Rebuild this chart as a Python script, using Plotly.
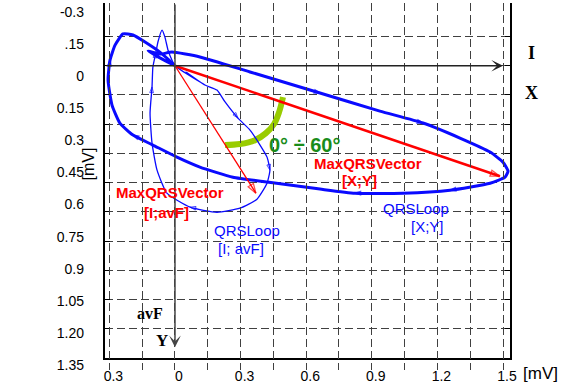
import numpy as np
import plotly.graph_objects as go

# ---------------- data (grid units, mV) ----------------
# QRS loop in the X;Y plane (thick)
xy_x = [0, -0.123, -0.069, -0.014, 0.114, 0.343, 0.663, 0.937, 1.134, 1.303, 1.441, 1.500,
        1.523, 1.509, 1.441, 1.258, 1.043, 0.823, 0.663, 0.421, 0.265, 0.114, 0.009, -0.101,
        -0.192, -0.252, -0.288, -0.306, -0.297, -0.274, -0.238, -0.192, -0.137, -0.069, 0]
xy_y = [0, -0.076, -0.060, -0.070, -0.045, 0.032, 0.140, 0.233, 0.294, 0.371, 0.443, 0.495,
        0.541, 0.572, 0.603, 0.639, 0.654, 0.654, 0.633, 0.597, 0.572, 0.520, 0.469, 0.407,
        0.356, 0.294, 0.202, 0.073, -0.029, -0.106, -0.163, -0.158, -0.122, -0.070, 0]
xy_arrow_idx = [6, 8, 15, 17, 24, 28]

# QRS loop in the I;avF plane (thin)
ia_x = [0, 0.114, 0.050, 0.137, 0.192, 0.229, 0.288, 0.343, 0.389, 0.421, 0.434, 0.421, 0.375,
        0.297, 0.192, 0.069, -0.037, -0.082, -0.105, -0.114, -0.105, -0.101, -0.087, -0.078,
        -0.059, -0.046, -0.032, -0.014, 0]
ia_y = [0, 0.084, 0.032, 0.099, 0.125, 0.186, 0.269, 0.330, 0.407, 0.469, 0.536, 0.603, 0.685,
        0.731, 0.752, 0.726, 0.654, 0.536, 0.397, 0.243, 0.109, 0.007, -0.070, -0.122, -0.183,
        -0.147, -0.081, -0.029, 0]
ia_arrow_idx = [6, 10, 15, 20, 22]

# maximal QRS vectors
vec_xy = [1.486, 0.567]
vec_ia = [0.370, 0.654]

# 0°÷60° arc
arc_x = [0.494, 0.476, 0.453, 0.416, 0.366, 0.297, 0.229]
arc_y = [0.161, 0.238, 0.299, 0.346, 0.382, 0.402, 0.407]

# axis arrows (ends)
x_arrow_end = 1.5
y_arrow_end = 1.445

# ticks
x_tick_vals = list(np.round(np.arange(-0.3, 1.5001, 0.15), 2))
x_tick_text = ["0.3", "", "0", "", "0.3", "", "0.6", "", "0.9", "", "1.2", "", "1.5"]
y_grid_vals = list(np.round(np.arange(-0.15, 1.3501, 0.15), 2))
y_label_vals = list(np.round(np.arange(-0.3, 1.3501, 0.15), 2))
y_label_text = ["-0.3", ".15", "0", "0.15", "0.3", "0.45", "0.6", "0.75", "0.9", "1.05",
                "1.20", "1.35"]

BLUE = "#0a0aff"
RED = "#ff0000"
GREEN_TXT = "#1a8c1a"
ARC = "#99cc00"
SANS = "Liberation Sans, Arial, sans-serif"
SERIF = "Liberation Serif, Times New Roman, serif"


def sizes(n, idx, s):
    return [s if i in idx else 0 for i in range(n)]


fig = go.Figure()

# arc
fig.add_trace(go.Scatter(x=arc_x, y=arc_y, mode="lines", line=dict(color=ARC, width=6, shape="spline"),
                         hoverinfo="skip", showlegend=False))

# loops
fig.add_trace(go.Scatter(x=xy_x, y=xy_y, mode="lines+markers",
                         line=dict(color=BLUE, width=3, shape="spline", smoothing=0.5),
                         marker=dict(symbol="arrow-open", size=sizes(len(xy_x), xy_arrow_idx, 6),
                                     angleref="previous", color=BLUE, line=dict(width=1.2, color=BLUE)),
                         showlegend=False, hoverinfo="skip"))
fig.add_trace(go.Scatter(x=ia_x, y=ia_y, mode="lines+markers",
                         line=dict(color=BLUE, width=1.3, shape="spline", smoothing=0.5),
                         marker=dict(symbol="arrow-open", size=sizes(len(ia_x), ia_arrow_idx, 6),
                                     angleref="previous", color=BLUE, line=dict(width=1, color=BLUE)),
                         showlegend=False, hoverinfo="skip"))

# vectors
for v, w in ((vec_xy, 2.5), (vec_ia, 1.3)):
    fig.add_trace(go.Scatter(x=[0, v[0]], y=[0, v[1]], mode="lines+markers",
                             line=dict(color=RED, width=w),
                             marker=dict(symbol="arrow-open", size=[0, 10], angleref="previous",
                                         color=RED, line=dict(width=1.3, color=RED)),
                             showlegend=False, hoverinfo="skip"))

# dummy trace for the label axis
fig.add_trace(go.Scatter(x=[None], y=[None], yaxis="y2", showlegend=False, hoverinfo="skip"))

ann = []
# axis arrows
ann.append(dict(x=x_arrow_end, y=0, ax=-0.32, ay=0, xref="x", yref="y", axref="x", ayref="y",
                text="", showarrow=True, arrowhead=3, arrowsize=1.3, arrowwidth=1.5, arrowcolor="#222222",
                standoff=0))
ann.append(dict(x=0, y=y_arrow_end, ax=0, ay=-0.322, xref="x", yref="y", axref="x", ayref="y",
                text="", showarrow=True, arrowhead=3, arrowsize=1.3, arrowwidth=1.5, arrowcolor="#444444",
                standoff=0))


def txt(t, x, y, color, size, bold=False, family=SANS, ref="data", **kw):
    r = ("x", "y") if ref == "data" else ("paper", "paper")
    d = dict(text=f"<b>{t}</b>" if bold else t, x=x, y=y, xref=r[0], yref=r[1], showarrow=False,
             xanchor="center", yanchor="middle",
             font=dict(color=color, size=size, family=family))
    d.update(kw)
    ann.append(d)


txt("I", 1.052, 0.864, "black", 18, True, SERIF, ref="paper")
txt("X", 1.054, 0.755, "black", 18, True, SERIF, ref="paper")
txt("avF", -0.114, 1.270, "black", 16, True, SERIF)
txt("Y", -0.059, 1.409, "black", 17, True, SERIF)
txt("0° ÷ 60°", 0.594, 0.407, GREEN_TXT, 20, True)
txt("MaxQRSVector", 0.883, 0.500, RED, 15, True)
txt("[X;Y]", 0.846, 0.587, RED, 15, True)
txt("MaxQRSVector", -0.023, 0.650, RED, 15, True)
txt("[I;avF]", -0.037, 0.752, RED, 15, True)
txt("QRSLoop", 1.102, 0.731, BLUE, 15)
txt("[X;Y]", 1.157, 0.823, BLUE, 15)
txt("QRSLoop", 0.329, 0.844, BLUE, 15)
txt("[I; avF]", 0.302, 0.937, BLUE, 15)
txt("[mV]", 1.027, -0.010, "black", 17, ref="paper", xanchor="left")
txt("[mV]", -0.040, 0.562, "black", 16, ref="paper", textangle=-90)

grid = dict(showgrid=True, gridcolor="#404040", gridwidth=1, griddash="8px,4px", zeroline=False,
            automargin=False)

fig.update_layout(
    template="none",
    width=562, height=385,
    margin=dict(l=105, r=52, t=3, b=15, pad=0),
    paper_bgcolor="white", plot_bgcolor="rgba(0,0,0,0)",
    font=dict(family=SANS, size=14, color="black"),
    annotations=ann,
    xaxis=dict(range=[-0.32, 1.532], tickmode="array", tickvals=x_tick_vals, ticktext=x_tick_text,
               ticks="inside", ticklen=5, tickcolor="black", tickwidth=1,
               showline=True, linecolor="black", linewidth=2, mirror=False,
               tickfont=dict(size=14, family=SANS), ticklabelshift=4, ticklabelstandoff=4,
               anchor="y", **grid),
    yaxis=dict(range=[1.5, -0.322], domain=[0.0327, 1], tickmode="array", tickvals=y_grid_vals,
               showticklabels=False, ticks="inside", ticklen=5, tickcolor="black", tickwidth=1,
               showline=True, linecolor="black", linewidth=2, mirror="ticks", anchor="x", **grid),
    yaxis2=dict(range=[1.3729, -0.342], domain=[0, 1], anchor="x", side="left",
                tickmode="array", tickvals=y_label_vals, ticktext=y_label_text,
                showgrid=False, zeroline=False, showline=False, ticks="", automargin=False,
                tickfont=dict(size=14, family=SANS), ticklabelstandoff=20),
)

fig.write_html("out.html", config={"displayModeBar": False},
               post_script="document.body.style.margin='0px';")
